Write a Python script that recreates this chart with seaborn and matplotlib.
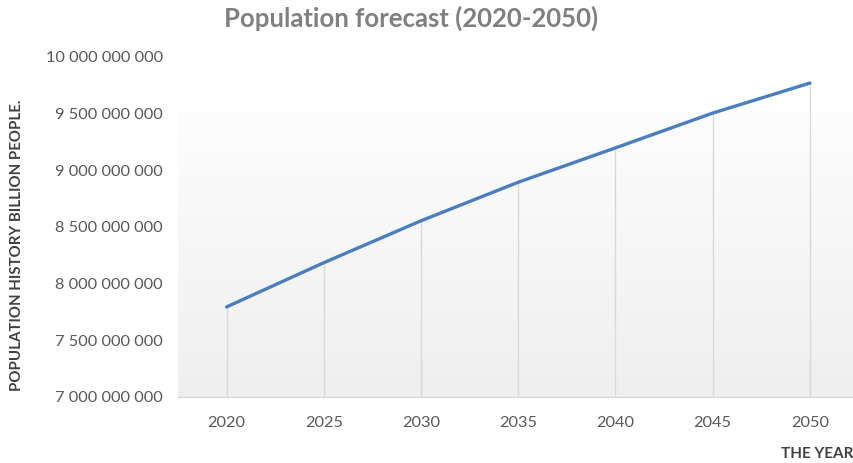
import numpy as np
import pandas as pd
import matplotlib
matplotlib.use("Agg")
import matplotlib.pyplot as plt
import matplotlib.ticker as ticker
import seaborn as sns

# =========================================================================
# DATA
# =========================================================================
years = [2020, 2025, 2030, 2035, 2040, 2045, 2050]
population = [7.795e9, 8.185e9, 8.555e9, 8.895e9, 9.198e9, 9.505e9, 9.770e9]
y_ticks = [7e9, 7.5e9, 8e9, 8.5e9, 9e9, 9.5e9, 10e9]

title_text = "Population forecast (2020-2050)"
y_label = "POPULATION HISTORY BILLION PEOPLE."
x_label = "THE YEAR"

df = pd.DataFrame({"year": years, "population": population})

# =========================================================================
# STYLE
# =========================================================================
sns.set_theme(style="white")
plt.rcParams["font.family"] = ["Lato", "DejaVu Sans"]

line_color = "#4A7EBF"
tick_color = "#595959"

fig = plt.figure(figsize=(8.54, 4.63), dpi=100)
ax = fig.add_axes([178 / 854, 66 / 463, 680.5 / 854, 340 / 463])

ax.set_xlim(2017.5, 2052.5)
ax.set_ylim(7e9, 10e9)

# soft gradient panel behind the plot (white on top, light grey at bottom)
grad = np.linspace(0, 1, 256).reshape(-1, 1)
cmap = matplotlib.colors.LinearSegmentedColormap.from_list("bg", ["#FDFDFD", "#EFEFEF"])
ax.imshow(grad, cmap=cmap, aspect="auto", extent=[2017.5, 2052.5, 7e9, 9.52e9],
          origin="upper", zorder=0)

# drop lines from the axis up to each point
ax.vlines(df["year"], 7e9, df["population"], color="#D9D9D9", lw=1, zorder=1)

sns.lineplot(data=df, x="year", y="population", color=line_color, lw=2.4,
             ax=ax, zorder=3)

ax.set_xticks(years)
ax.set_yticks(y_ticks)
ax.yaxis.set_major_formatter(
    ticker.FuncFormatter(lambda v, p: f"{int(round(v)):,}".replace(",", " ")))
ax.tick_params(axis="both", length=0, colors=tick_color, labelsize=11.8)
ax.tick_params(axis="y", pad=11)
ax.tick_params(axis="x", pad=14)

for side in ["top", "right", "left"]:
    ax.spines[side].set_visible(False)
ax.spines["bottom"].set_color("#D9D9D9")
ax.spines["bottom"].set_linewidth(1)

ax.set_xlabel("")
ax.set_ylabel("")

fig.text(17 / 854, 1 - 245 / 463, y_label, rotation=90, ha="center", va="center",
         fontsize=10.8, fontweight="bold", color="#404040")
fig.text(853 / 854, 1 - 454 / 463, x_label, ha="right", va="center",
         fontsize=11, fontweight="bold", color="#404040")
fig.text(411 / 854, 1 - 18 / 463, title_text, ha="center", va="center",
         fontsize=18.5, fontweight="bold", color="#808080")

fig.savefig("out.png", dpi=100)
